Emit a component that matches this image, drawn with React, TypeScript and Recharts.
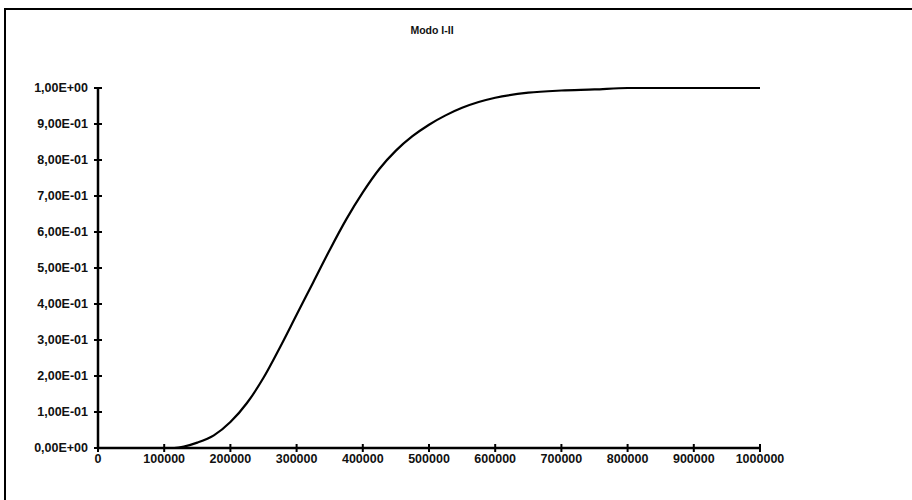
import React from 'react';
import { LineChart, Line, XAxis, YAxis } from 'recharts';

const xValues = [0, 100000, 115000, 150000, 175000, 200000, 225000, 250000, 275000, 300000, 325000, 350000, 375000, 400000, 425000, 450000, 475000, 500000, 525000, 550000, 575000, 600000, 650000, 700000, 750000, 800000, 900000, 1000000];
const yValues = [0, 0, 0, 0.015, 0.035, 0.072, 0.125, 0.195, 0.28, 0.37, 0.46, 0.55, 0.635, 0.71, 0.775, 0.826, 0.866, 0.898, 0.924, 0.945, 0.961, 0.973, 0.987, 0.993, 0.996, 1.0, 1.0, 1.0];
const xTicks = [0, 100000, 200000, 300000, 400000, 500000, 600000, 700000, 800000, 900000, 1000000];
const yTicks = [0, 0.1, 0.2, 0.3, 0.4, 0.5, 0.6, 0.7, 0.8, 0.9, 1.0];
const title = 'Modo I-II';

const data = xValues.map((x, i) => ({ x, y: yValues[i] }));

const fmtY = (v: number) => {
  if (v === 0) return '0,00E+00';
  if (v >= 1) return '1,00E+00';
  return (v * 10).toFixed(2).replace('.', ',') + 'E-01';
};

const FONT = '"Liberation Sans", Arial, sans-serif';

const XTick = (props: any) => {
  const { x, y, payload } = props;
  return (
    <g>
      <line x1={x} x2={x} y1={y - 4} y2={y + 4} stroke="#000" strokeWidth={2} />
      <text x={x} y={y + 15} textAnchor="middle" fontSize={12.5} fontWeight="bold" fontFamily={FONT} fill="#111">
        {String(payload.value)}
      </text>
    </g>
  );
};

const YTick = (props: any) => {
  const { x, y, payload } = props;
  return (
    <g>
      <line x1={x - 4} x2={x + 4} y1={y} y2={y} stroke="#000" strokeWidth={2} />
      <text x={x - 10} y={y + 4} textAnchor="end" fontSize={12.5} fontWeight="bold" fontFamily={FONT} fill="#111">
        {fmtY(payload.value)}
      </text>
    </g>
  );
};

export default function App() {
  return (
    <div style={{ position: 'absolute', left: 0, top: 0, width: 912, height: 500, background: '#fff', overflow: 'hidden' }}>
      <div style={{ position: 'absolute', left: 4, top: 8, width: 908, height: 492, borderTop: '2px solid #000', borderLeft: '2px solid #000' }} />
      <div style={{ position: 'absolute', left: 98, width: 668, top: 24, textAlign: 'center', fontFamily: FONT, fontSize: 10.5, fontWeight: 'bold', color: '#111' }}>
        {title}
      </div>
      <div style={{ position: 'absolute', left: 0, top: 0 }}>
        <LineChart width={912} height={500} data={data} margin={{ top: 88, right: 152, bottom: 22, left: 8 }}>
          <XAxis
            dataKey="x"
            type="number"
            domain={[0, 1000000]}
            ticks={xTicks}
            interval={0}
            height={30}
            tickSize={0}
            tickMargin={0}
            tickLine={false}
            axisLine={{ stroke: '#000', strokeWidth: 2.5 }}
            tick={<XTick />}
          />
          <YAxis
            type="number"
            domain={[0, 1]}
            ticks={yTicks}
            interval={0}
            width={90}
            tickSize={0}
            tickMargin={0}
            tickLine={false}
            axisLine={{ stroke: '#000', strokeWidth: 2.5 }}
            tick={<YTick />}
          />
          <Line type="monotone" dataKey="y" stroke="#000" strokeWidth={2.2} dot={false} isAnimationActive={false} />
        </LineChart>
      </div>
    </div>
  );
}
